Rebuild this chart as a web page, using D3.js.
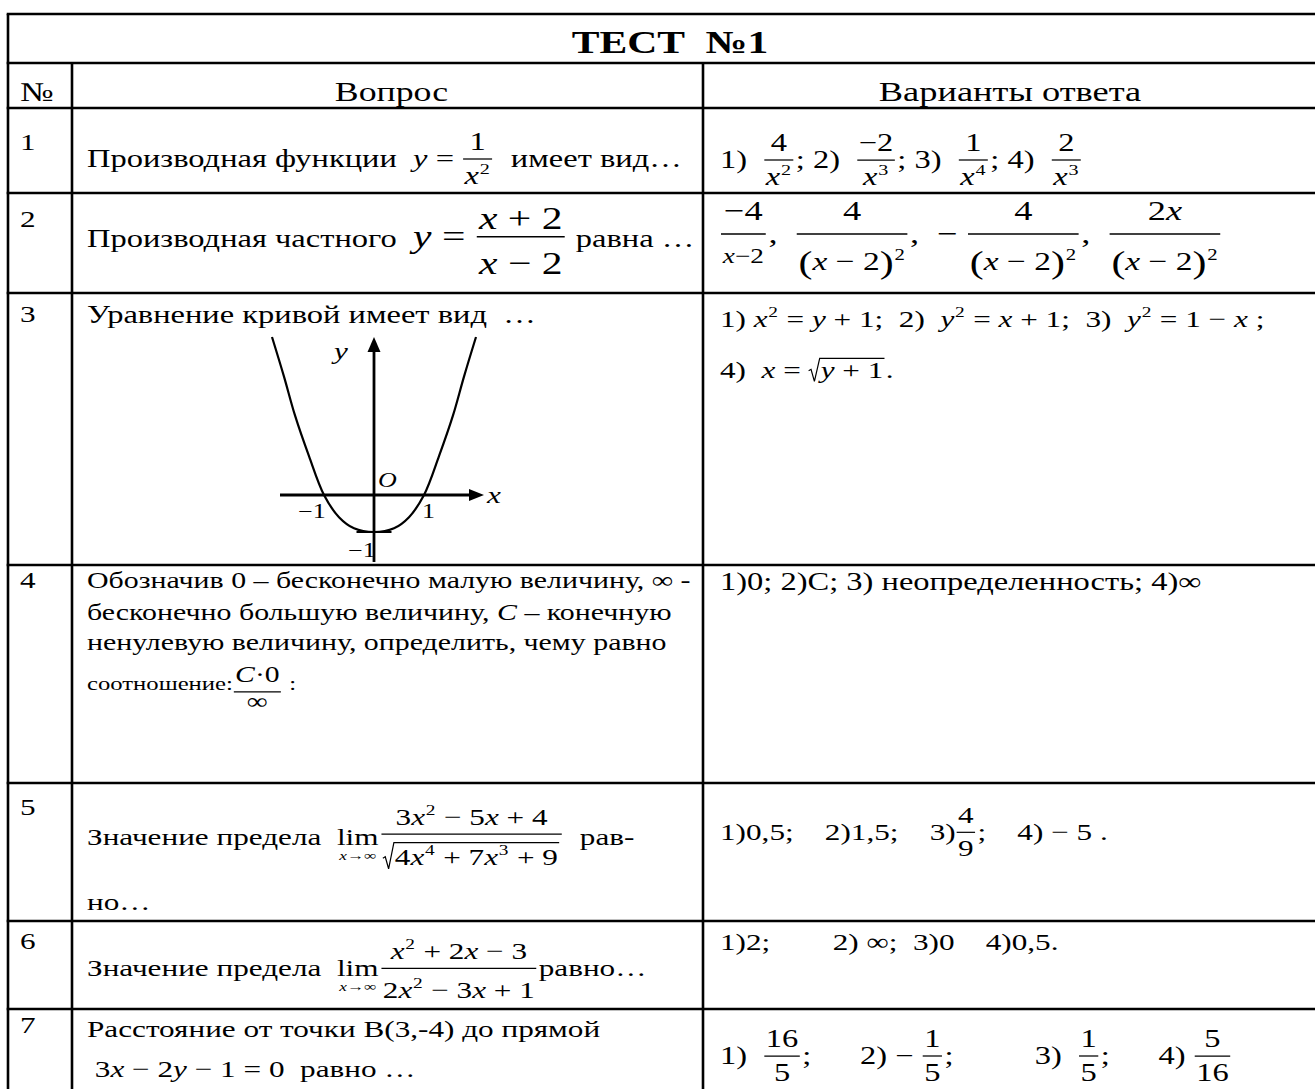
<!DOCTYPE html>
<html><head><meta charset="utf-8">
<script src="https://cdn.jsdelivr.net/npm/d3@7/dist/d3.min.js"></script>
<style>html,body{margin:0;padding:0;background:#fff;overflow:hidden}</style>
</head><body>
<svg id="chart" width="1315" height="1089"></svg>
<script>
// ---------------- data ----------------
const titleText = "ТЕСТ  №1";
const headerTexts = ["№", "Вопрос", "Варианты ответа"];
const rowNumbers = ["1", "2", "3", "4", "5", "6", "7"];

// curve of question 3 (graph units)
const curveX = [-2.04, -1.8, -1.58, -1.3, -1.0, -0.7, -0.4, 0, 0.4, 0.7, 1.0, 1.3, 1.58, 1.8, 2.04];
const curveY = [4.27, 3.2, 2.15, 1.05, 0, -0.6, -0.9, -1, -0.9, -0.6, 0, 1.05, 2.15, 3.2, 4.27];
const axisXExtent = [-1.88, 2.2];
const axisYExtent = [-1.81, 4.27];
const graphTicks = [{x: -1, y: 0, label: "−1"}, {x: 1, y: 0, label: "1"}, {x: 0, y: -1, label: "−1"}];
const graphAxisNames = {x: "x", y: "y", o: "O"};

// small helpers for the math markup
const I = s => ({i: s});
const S = s => ({sup: s});
const F = (n, d, o = {}) => Object.assign({frac: [n, d]}, o);
const R = (s, o = {}) => Object.assign({sqrt: s}, o);
const L = s => ({lim: s});
const P = s => ({paren: s});
const B = (s, k) => ({big: s, s: k});

const questions = [
  [["Производная функции  ", I("y"), " = ", F(["1"], [I("x"), S("2")]), "  имеет вид…"]],
  [["Производная частного  ", B([I("y"), " = ", F([I("x"), " + 2"], [I("x"), " − 2"], {up: 0.25, dn: 1.15})], 1.28), " равна …"]],
  [["Уравнение кривой имеет вид  …"]],
  [["Обозначив 0 – бесконечно малую величину, ∞ -"],
   ["бесконечно большую величину, ", I("C"), " – конечную"],
   ["ненулевую величину, определить, чему равно"],
   ["соотношение:", F([I("C"), "·0"], ["∞"], {s: 1.2, axis: -0.1, up: 0.45, dn: 0.75}), " :"]],
  [["Значение предела  ", L([I("x"), "→∞"]),
    F(["3", I("x"), S("2"), " − 5", I("x"), " + 4"], [R(["4", I("x"), S("4"), " + 7", I("x"), S("3"), " + 9"], {h: 0.95})], {axis: 0.45, dn: 1.3}),
    "  рав-"], ["но…"]],
  [["Значение предела  ", L([I("x"), "→∞"]),
    F([I("x"), S("2"), " + 2", I("x"), " − 3"], ["2", I("x"), S("2"), " − 3", I("x"), " + 1"], {dn: 1.25}), "равно…"]],
  [["Расстояние от точки B(3,-4) до прямой"], [" 3", I("x"), " − 2", I("y"), " − 1 = 0  равно …"]]
];

const answers = [
  [["1)  ", F(["4"], [I("x"), S("2")]), "; 2)  ", F(["−2"], [I("x"), S("3")]), "; 3)  ", F(["1"], [I("x"), S("4")]), "; 4)  ", F(["2"], [I("x"), S("3")])]],
  [[F(["−4"], [I("x"), "−2"], {ds: 0.75, up: 0.5, dn: 1.05}), ",  ",
    F(["4"], [P([I("x"), " − 2"]), S("2")], {ds: 0.92, up: 0.5, dn: 1.3}), ",  − ",
    F(["4"], [P([I("x"), " − 2"]), S("2")], {ds: 0.92, up: 0.5, dn: 1.3}), ",  ",
    F(["2", I("x")], [P([I("x"), " − 2"]), S("2")], {ds: 0.92, up: 0.5, dn: 1.3})]],
  [["1) ", I("x"), S("2"), " = ", I("y"), " + 1;  2)  ", I("y"), S("2"), " = ", I("x"), " + 1;  3)  ", I("y"), S("2"), " = 1 − ", I("x"), " ;"],
   ["4)  ", I("x"), " = ", R([I("y"), " + 1"]), "."]],
  [["1)0; 2)C; 3) неопределенность; 4)∞"]],
  [["1)0,5;    2)1,5;    3)", F(["4"], ["9"]), ";    4) − 5 ."]],
  [["1)2;        2) ∞;  3)0    4)0,5."]],
  [["1)  ", F(["16"], ["5"]), ";      2) − ", F(["1"], ["5"]), ";          3)  ", F(["1"], ["5"]), ";      4) ", F(["5"], ["16"])]]
];

// ---------------- layout / style ----------------
const W = 1315, H = 1089;
const K = 1.3;                 // horizontal stretch of the scanned page
const FONT = "'Liberation Serif','Times New Roman',Times,serif";
const rowEdges = [14, 63, 108, 193, 293, 565, 783, 921, 1009, 1110];
const colEdges = [8, 72, 703, 1330];
const qX = 87, aX = 720, nX = 20;
const numBase = [150, 227, 322, 588, 815, 949, 1033];
const qBase = [[167], [247], [323], [588, 620, 650, 690], [845, 910], [976], [1037, 1077]];
const aBase = [[168], [243], [327, 378], [590], [840], [950], [1064]];
const qFs = [25, 25, 25, 23, 24, 24, 24];
const qLastFs = {3: 19};       // smaller last line of question 4
const aFs = [25, 28, 24, 25, 24, 24, 25];

const svg = d3.select("#chart");
svg.append("rect").attr("width", W).attr("height", H).attr("fill", "#fff");
const root = svg.append("g");

function txt(g, s, x, y, fs, o = {}) {
  const t = g.append("text")
    .attr("transform", `translate(${x},${y}) scale(${K},1)`)
    .attr("font-family", FONT).attr("font-size", fs).attr("fill", "#000")
    .style("white-space", "pre").text(s);
  if (o.italic) t.attr("font-style", "italic");
  if (o.bold) t.attr("font-weight", "bold");
  return t.node().getComputedTextLength() * K;
}
function centerTxt(g, s, cx, y, fs, o = {}) {
  const w = txt(g, s, 0, 0, fs, o);
  g.select("text:last-child").attr("transform", `translate(${cx - w / 2},${y}) scale(${K},1)`);
  return w;
}
function drawSeq(g, seq, x, y, fs, it) {
  if (typeof seq === "string") seq = [seq];
  let cx = x;
  for (const n of seq) cx += drawNode(g, n, cx, y, fs, it);
  return cx - x;
}
function drawNode(g, n, x, y, fs, it) {
  if (typeof n === "string") return txt(g, n, x, y, fs, {italic: it});
  if (n.i !== undefined) return drawSeq(g, n.i, x, y, fs, true);
  if (n.sup !== undefined) return drawSeq(g, n.sup, x + 0.03 * fs, y - 0.42 * fs, fs * 0.62, false) + 0.06 * fs;
  if (n.frac) return drawFrac(g, n, x, y, fs);
  if (n.sqrt) return drawSqrt(g, n, x, y, fs);
  if (n.lim) return drawLim(g, n, x, y, fs);
  if (n.paren) return drawParen(g, n, x, y, fs);
  if (n.big) return drawSeq(g, n.big, x, y, fs * n.s, it);
  return 0;
}
function drawFrac(g, n, x, y, fs) {
  const f = fs * (n.s || 1);
  const gn = g.append("g"), gd = g.append("g");
  const wn = drawSeq(gn, n.frac[0], 0, 0, f * (n.ns || 1));
  const wd = drawSeq(gd, n.frac[1], 0, 0, f * (n.ds || 1));
  const pad = 0.1 * f;
  const w = Math.max(wn, wd) + 2 * pad;
  const bar = y - (n.axis ?? 0.32) * fs;
  gn.attr("transform", `translate(${x + (w - wn) / 2},${bar - (n.up ?? 0.38) * f})`);
  gd.attr("transform", `translate(${x + (w - wd) / 2},${bar + (n.dn ?? 1.0) * f})`);
  g.append("line").attr("x1", x + 1).attr("x2", x + w - 1).attr("y1", bar).attr("y2", bar)
    .attr("stroke", "#000").attr("stroke-width", Math.max(1.2, f * 0.05));
  return w + 0.06 * fs;
}
function drawSqrt(g, n, x, y, fs) {
  const pre = 0.5 * fs;
  const w = drawSeq(g, n.sqrt, x + pre, y, fs);
  const top = y - (n.h ?? 0.82) * fs;
  const p = `M${x},${y - 0.3 * fs} L${x + 0.1 * fs},${y - 0.36 * fs} L${x + 0.24 * fs},${y + 0.14 * fs} L${x + 0.46 * fs},${top} L${x + pre + w + 0.05 * fs},${top}`;
  g.append("path").attr("d", p).attr("fill", "none").attr("stroke", "#000").attr("stroke-width", Math.max(1.1, fs * 0.05));
  return pre + w + 0.1 * fs;
}
function drawLim(g, n, x, y, fs) {
  const gl = g.append("g"), gu = g.append("g");
  const wl = txt(gl, "lim", 0, 0, fs);
  const wu = drawSeq(gu, n.lim, 0, 0, fs * 0.55);
  const w = Math.max(wl, wu);
  gl.attr("transform", `translate(${x + (w - wl) / 2},${y})`);
  gu.attr("transform", `translate(${x + (w - wu) / 2},${y + 0.62 * fs})`);
  return w + 0.08 * fs;
}
function drawParen(g, n, x, y, fs) {
  const pf = fs * 1.25;
  let cx = x;
  cx += txt(g, "(", cx, y + 0.1 * fs, pf);
  cx += drawSeq(g, n.paren, cx, y, fs);
  cx += txt(g, ")", cx, y + 0.1 * fs, pf);
  return cx - x;
}

// ---------------- table grid ----------------
const grid = root.append("g").attr("stroke", "#000").attr("stroke-width", 2.6);
grid.selectAll("line.h").data(rowEdges.slice(0, 9)).join("line").attr("class", "h")
  .attr("x1", colEdges[0] - 1.3).attr("x2", W + 10).attr("y1", d => d).attr("y2", d => d);
grid.selectAll("line.v0").data([colEdges[0]]).join("line").attr("class", "v0")
  .attr("x1", d => d).attr("x2", d => d).attr("y1", rowEdges[0]).attr("y2", H + 10);
grid.selectAll("line.v").data(colEdges.slice(1, 3)).join("line").attr("class", "v")
  .attr("x1", d => d).attr("x2", d => d).attr("y1", rowEdges[1]).attr("y2", H + 10);

// ---------------- title / header ----------------
const tg = root.append("g");
centerTxt(tg, titleText, 670, 53, 32, {bold: true});
txt(tg, headerTexts[0], nX, 101, 27);
centerTxt(tg, headerTexts[1], (colEdges[1] + colEdges[2]) / 2 + 4, 101, 27.5);
centerTxt(tg, headerTexts[2], 1010, 101, 28);

// ---------------- rows ----------------
const rowsG = root.append("g");
rowNumbers.forEach((num, r) => {
  const g = rowsG.append("g").attr("class", "row");
  txt(g, num, nX, numBase[r], 24);
  questions[r].forEach((line, i) => {
    const last = i === questions[r].length - 1 && qLastFs[r] !== undefined;
    drawSeq(g, line, qX, qBase[r][i], last ? qLastFs[r] : qFs[r]);
  });
  answers[r].forEach((line, i) => drawSeq(g, line, aX, aBase[r][i], aFs[r]));
});

// ---------------- graph of question 3 ----------------
const gx = d3.scaleLinear().domain([-1, 1]).range([324, 424]);
const gy = d3.scaleLinear().domain([-1, 0]).range([532, 495]);
const graph = root.append("g");
graph.append("line").attr("x1", gx(axisXExtent[0])).attr("x2", gx(axisXExtent[1]) - 10)
  .attr("y1", gy(0)).attr("y2", gy(0)).attr("stroke", "#000").attr("stroke-width", 3.2);
graph.append("path").attr("d", `M${gx(axisXExtent[1])},${gy(0)} l-15,-6 l0,12 z`).attr("fill", "#000");
graph.append("line").attr("x1", gx(0)).attr("x2", gx(0))
  .attr("y1", gy(axisYExtent[0])).attr("y2", gy(axisYExtent[1]) + 10).attr("stroke", "#000").attr("stroke-width", 2.8);
graph.append("path").attr("d", `M${gx(0)},${gy(axisYExtent[1])} l-6.5,15 l13,0 z`).attr("fill", "#000");
const pts = curveX.map((x, i) => [x, curveY[i]]);
graph.append("path").datum(pts)
  .attr("d", d3.line().x(d => gx(d[0])).y(d => gy(d[1])).curve(d3.curveCatmullRom))
  .attr("fill", "none").attr("stroke", "#000").attr("stroke-width", 2.2);
graph.append("line").attr("x1", gx(-0.35)).attr("x2", gx(0.35)).attr("y1", gy(-1)).attr("y2", gy(-1))
  .attr("stroke", "#000").attr("stroke-width", 2.2);
txt(graph, graphAxisNames.y, gx(0) - 40, gy(4.27) + 22, 24, {italic: true});
txt(graph, graphAxisNames.o, gx(0) + 4, gy(0) - 8, 20, {italic: true});
txt(graph, graphAxisNames.x, gx(axisXExtent[1]) + 3, gy(0) + 8, 24, {italic: true});
graphTicks.forEach(t => {
  if (t.y === 0) {
    const dx = t.x < 0 ? -26 : -2;
    txt(graph, t.label, gx(t.x) + dx, gy(0) + 23, 20);
  } else {
    txt(graph, t.label, gx(0) - 26, gy(t.y) + 25, 20);
  }
});
</script>
</body></html>
